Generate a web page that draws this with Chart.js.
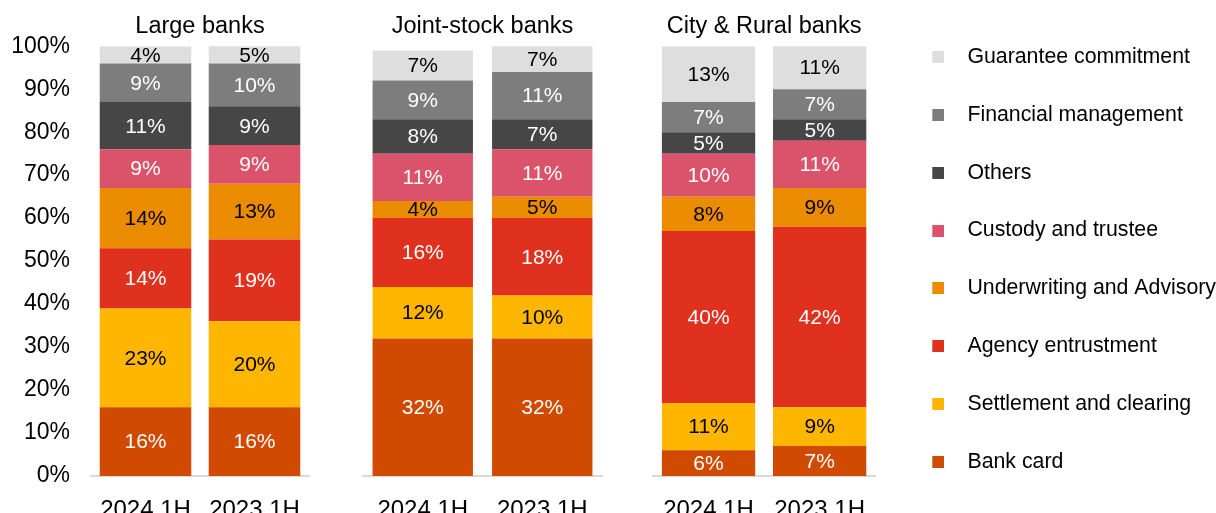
<!DOCTYPE html>
<html>
<head>
<meta charset="utf-8">
<script src="https://cdn.jsdelivr.net/npm/chart.js@4.4.1/dist/chart.umd.min.js"></script>
<style>
  html, body { margin: 0; padding: 0; background: #fff; width: 1216px; height: 513px; overflow: hidden; }
  .panel { position: absolute; top: 0; }
  canvas { display: block; }
</style>
</head>
<body>
<div class="panel" style="left:0px"><canvas id="large" width="320" height="516"></canvas></div>
<div class="panel" style="left:340px"><canvas id="joint" width="280" height="516"></canvas></div>
<div class="panel" style="left:630px"><canvas id="city" width="596" height="516"></canvas></div>
<script>
// Fee income structure by bank type, share of total (%)
const groups = ['Large banks', 'Joint-stock banks', 'City & Rural banks'];
const periods = ['2024 1H', '2023 1H'];
const seriesNames = ['Bank card', 'Settlement and clearing', 'Agency entrustment', 'Underwriting and Advisory',
                     'Custody and trustee', 'Others', 'Financial management', 'Guarantee commitment'];

// values per series: [Large 2024, Large 2023, Joint 2024, Joint 2023, City 2024, City 2023]
const bankCard     = [16, 16, 32, 32, 6, 7];
const settlement   = [23, 20, 12, 10, 11, 9];
const agency       = [14, 19, 16, 18, 40, 42];
const underwriting = [14, 13, 4, 5, 8, 9];
const custody      = [9, 9, 11, 11, 10, 11];
const others       = [11, 9, 8, 7, 5, 5];
const financial    = [9, 10, 9, 11, 7, 7];
const guarantee    = [4, 5, 7, 7, 13, 11];

const yTicks = [0, 10, 20, 30, 40, 50, 60, 70, 80, 90, 100];

const seriesValues = [bankCard, settlement, agency, underwriting, custody, others, financial, guarantee];
const seriesColors = ['#d04a02', '#ffb600', '#e0301e', '#eb8c00', '#db536a', '#464646', '#7d7d7d', '#dedede'];
const labelColors  = ['#ffffff', '#000000', '#ffffff', '#000000', '#ffffff', '#ffffff', '#ffffff', '#000000'];

const FONT = '"Liberation Sans", Arial, Helvetica, sans-serif';

// value text centred inside each visible bar segment
const segmentLabels = {
  id: 'segmentLabels',
  afterDatasetsDraw(chart) {
    const { ctx, chartArea } = chart;
    ctx.save();
    ctx.font = '21px ' + FONT;
    ctx.textAlign = 'center';
    ctx.textBaseline = 'middle';
    chart.data.datasets.forEach((ds, i) => {
      const meta = chart.getDatasetMeta(i);
      meta.data.forEach((bar, j) => {
        const top = Math.max(bar.y, chartArea.top);
        const y = (top + bar.base) / 2;
        ctx.fillStyle = ds.labelColor;
        ctx.fillText(Math.round(ds.data[j]) + '%', bar.x, y + 1);
      });
    });
    ctx.restore();
  }
};

// small square swatch for the legend, placed at the right of a transparent strip
function swatch(color) {
  const c = document.createElement('canvas');
  c.width = 20; c.height = 12;
  const g = c.getContext('2d');
  g.fillStyle = color;
  g.fillRect(8, 0, 12, 12);
  return c;
}

function datasetsFor(g) {
  return seriesNames.map((name, s) => ({
    label: name,
    data: seriesValues[s].slice(g * 2, g * 2 + 2),
    backgroundColor: seriesColors[s],
    labelColor: labelColors[s],
    borderWidth: 0,
    barPercentage: 0.84,
    categoryPercentage: 1
  }));
}

function makeChart(id, g, opts) {
  const showY = !!opts.showY;
  return new Chart(document.getElementById(id), {
    type: 'bar',
    data: { labels: periods, datasets: datasetsFor(g) },
    options: {
      responsive: false,
      animation: false,
      events: [],
      layout: { padding: opts.padding },
      scales: {
        x: {
          stacked: true,
          grid: { display: false, drawTicks: true, tickLength: 9 },
          border: { display: true, color: '#d9d9d9', width: 2 },
          ticks: { color: '#000', font: { family: FONT, size: 24 }, padding: 11, maxRotation: 0 },
          afterFit(scale) { scale.height = 40; }
        },
        y: {
          stacked: true,
          display: showY,
          min: 0, max: 100,
          grid: { display: false, drawTicks: false },
          border: { display: false },
          afterBuildTicks(scale) { scale.ticks = yTicks.map(v => ({ value: v })); },
          ticks: {
            color: '#000',
            font: { family: FONT, size: 23 },
            padding: 21,
            callback: v => v + '%'
          },
          afterFit(scale) { if (showY) scale.width = 81; }
        }
      },
      plugins: {
        title: {
          display: true,
          text: groups[g],
          fullSize: false,
          color: '#000',
          font: { family: FONT, size: 23.5, weight: 'normal' },
          padding: { top: 12.5 - opts.padding.top, bottom: 5.5 }
        },
        tooltip: { enabled: false },
        legend: opts.legend ? {
          display: true,
          position: 'right',
          reverse: true,
          maxWidth: 400,
          labels: {
            color: '#000',
            font: { family: FONT, size: 21.3 },
            usePointStyle: true,
            pointStyleWidth: 45,
            padding: 36.6,
            generateLabels(chart) {
              const items = Chart.defaults.plugins.legend.labels.generateLabels(chart);
              items.forEach(it => {
                it.pointStyle = swatch(chart.data.datasets[it.datasetIndex].backgroundColor);
              });
              return items;
            }
          }
        } : { display: false }
      }
    },
    plugins: [segmentLabels]
  });
}

makeChart('large', 0, { showY: true, padding: { left: 10, right: 11, top: 0, bottom: 0 } });
makeChart('joint', 1, { padding: { left: 23, right: 18, top: 0, bottom: 0 } });
makeChart('city', 2, { legend: true, padding: { left: 23, right: 0, top: 3, bottom: 0 } });
</script>
</body>
</html>
